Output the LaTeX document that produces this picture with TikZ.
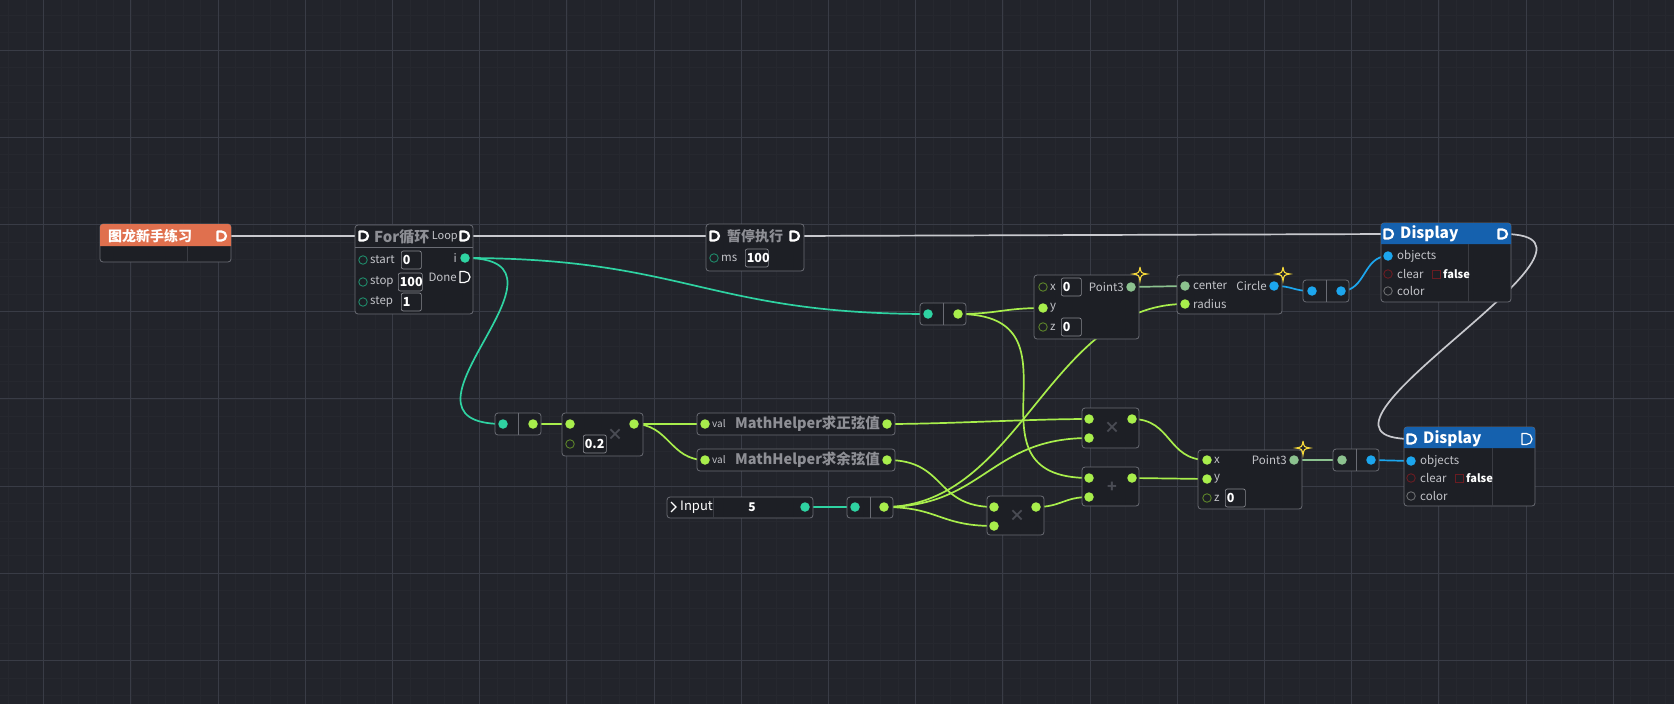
\documentclass[tikz,border=0pt]{standalone}
\usepackage{fontspec}
\setmainfont{Noto Sans CJK SC}
\usepackage{xcolor}
\usetikzlibrary{positioning}

\definecolor{canvas}{HTML}{22242B}
\definecolor{gridminor}{HTML}{26282F}
\definecolor{gridmajor}{HTML}{393C46}
\definecolor{nodefill}{HTML}{1D1F25}
\definecolor{nodeedge}{HTML}{6A6C74}
\definecolor{execwire}{HTML}{C8C9CE}
\definecolor{tealw}{HTML}{2FD3A2}
\definecolor{limew}{HTML}{A8EE4C}
\definecolor{bluew}{HTML}{1CA6EE}
\definecolor{pointw}{HTML}{8CC28F}
\definecolor{labeltxt}{HTML}{C3C4C9}
\definecolor{titletxt}{HTML}{8E8F95}
\definecolor{starthdr}{HTML}{E0704E}
\definecolor{disphdr}{HTML}{1561AE}
\definecolor{darkred}{HTML}{6A1C22}
\definecolor{opgray}{HTML}{4A4C54}
\definecolor{sparkcol}{HTML}{F2D63A}
\definecolor{divider}{HTML}{3A3C43}

\pgfdeclarelayer{grid}
\pgfdeclarelayer{wires}
\pgfsetlayers{grid,wires,main}

\begin{document}
\begin{tikzpicture}[x=1pt, y=-1pt,
    box/.style={draw=nodeedge, fill=nodefill, rounded corners=3pt, line width=0.8pt, inner sep=0pt},
    relay/.style={box, minimum width=46pt, minimum height=22pt},
    port/.style={circle, inner sep=0pt, minimum size=9.5pt},
    tport/.style={port, fill=tealw},
    lport/.style={port, fill=limew},
    bport/.style={port, fill=bluew},
    gport/.style={port, fill=pointw},
    hole/.style={circle, draw, line width=0.9pt, inner sep=0pt, minimum size=8.5pt},
    lbl/.style={font=\fontsize{11.5}{13}\selectfont, text=labeltxt, inner sep=0pt},
    ttl/.style={font=\fontsize{14.5}{16}\selectfont\bfseries, text=titletxt, inner sep=0pt},
    hdrtxt/.style={font=\fontsize{15.5}{17}\selectfont\bfseries, text=white, inner sep=0pt},
    valbox/.style={draw=nodeedge!80, fill=nodefill, rounded corners=2pt, line width=0.7pt,
                   minimum height=18pt, inner sep=1.5pt, text width=17pt, align=left,
                   font=\fontsize{12.5}{14}\selectfont\bfseries, text=white},
    opsign/.style={font=\fontsize{16}{16}\selectfont\bfseries, text=opgray, inner sep=0pt},
    wire/.style={line width=1.7pt},
    execD/.style={draw=white, line width=2.2pt, line join=round},
    execO/.style={draw=white, line width=1.2pt, line join=round},
    spark/.style={draw=sparkcol, line width=1.1pt}
  ]
  \useasboundingbox (0,0) rectangle (1674,704);

  % ---------------- canvas ----------------
  \begin{pgfonlayer}{grid}
    \fill[canvas] (0,0) rectangle (1674,704);
    \foreach \k in {0,...,95}
      \draw[gridminor, line width=0.6pt] ({8.72+17.44*\k},0) -- ++(0,704);
    \foreach \k in {0,...,39}
      \draw[gridminor, line width=0.6pt] (0,{15.12+17.44*\k}) -- ++(1674,0);
    \foreach \k in {0,...,18}
      \draw[gridmajor, line width=1pt] ({43.6+87.2*\k},0) -- ++(0,704);
    \foreach \k in {0,...,7}
      \draw[gridmajor, line width=1pt] (0,{50+87.2*\k}) -- ++(1674,0);
  \end{pgfonlayer}

  % ---------------- start ----------------
  \node[box, minimum width=131pt, minimum height=38pt] (start) at (165.5,243) {};
  \fill[starthdr] (100,246) [rounded corners=3pt] -- (100,224) -- (231,224) [sharp corners] -- (231,246) -- cycle;
  \draw[divider, line width=0.6pt] (187,246) -- (187,262);
  \node[font=\fontsize{14}{16}\selectfont\bfseries, text=white, anchor=west, inner sep=0pt] (starttxt) at (108,236) {图龙新手练习};

  % ---------------- for loop ----------------
  \node[box, minimum width=118pt, minimum height=89pt] (forloop) at (414,269.5) {};
  \draw[nodeedge, line width=0.6pt] (355,247) -- (473,247);
  \node[ttl, font=\fontsize{15}{17}\selectfont\bfseries, anchor=west] (fortitle) at (374,237) {For循环};
  \node[lbl, font=\fontsize{11}{12}\selectfont, anchor=east] (looplbl) at (458,237) {Loop};
  \node[hole, draw=tealw!65!black] (forstarth) at (363,260) {};
  \node[hole, draw=tealw!65!black] (forstoph) at (363,282) {};
  \node[hole, draw=tealw!65!black] (forsteph) at (363,302) {};
  \node[lbl, anchor=west] (forstartl) at (370,260) {start};
  \node[lbl, anchor=west] (forstopl) at (370,282) {stop};
  \node[lbl, anchor=west] (forstepl) at (370,302) {step};
  \node[valbox, anchor=west] (forstartv) at (401,260) {0};
  \node[valbox, anchor=west, text width=21pt] (forstopv) at (398,282) {100};
  \node[valbox, anchor=west] (forstepv) at (401,302) {1};
  \node[lbl, anchor=east] (foril) at (457,258) {i};
  \node[tport] (fori) at (465,258) {};
  \node[lbl, anchor=east] (fordonel) at (457,277) {Done};

  % ---------------- pause ----------------
  \node[box, minimum width=98pt, minimum height=47pt] (pause) at (755,247.5) {};
  \node[ttl, font=\fontsize{14}{16}\selectfont\bfseries] (pausetitle) at (755,236) {暂停执行};
  \node[hole, draw=tealw!65!black] (pausemsh) at (714,258) {};
  \node[lbl, anchor=west] (pausemsl) at (721,258) {ms};
  \node[valbox, anchor=west, text width=20pt] (pausemsv) at (745,258) {100};

  % ---------------- display 1 ----------------
  \node[box, minimum width=130pt, minimum height=79pt] (disp1) at (1446,262.5) {};
  \fill[disphdr] (1381,244) [rounded corners=3pt] -- (1381,223) -- (1511,223) [sharp corners] -- (1511,244) -- cycle;
  \draw[divider, line width=0.6pt] (1468,244) -- (1468,302);
  \node[hdrtxt, anchor=west] (d1title) at (1400,234) {Display};
  \node[bport] (d1obj) at (1388,256) {};
  \node[lbl, anchor=west] (d1objl) at (1397,256) {objects};
  \node[hole, draw=darkred] (d1clrh) at (1388,274) {};
  \node[lbl, anchor=west] (d1clrl) at (1397,274) {clear};
  \draw[darkred, line width=0.9pt] (1432,270) rectangle (1440,278);
  \node[lbl, font=\fontsize{11}{12}\selectfont\bfseries, text=white, anchor=west] (d1false) at (1443,274) {false};
  \node[hole, draw=labeltxt!55!black] (d1colh) at (1388,291) {};
  \node[lbl, anchor=west] (d1coll) at (1397,291) {color};

  % ---------------- point3 / circle ----------------
  \node[relay] (relayA) at (943,314) {};
  \draw[nodeedge, line width=0.6pt] (relayA.north) -- (relayA.south);
  \node[tport] (rA1) at (928,314) {};
  \node[lport] (rA2) at (958,314) {};

  \node[box, minimum width=105pt, minimum height=64pt] (pointA) at (1086.5,307) {};
  \node[hole, draw=limew!55!black] (pAxh) at (1043,287) {};
  \node[lbl, anchor=west] (pAxl) at (1050,287) {x};
  \node[valbox, anchor=west] (pAxv) at (1061,287) {0};
  \node[lport] (pAy) at (1043,308) {};
  \node[lbl, anchor=west] (pAyl) at (1050,308) {y};
  \node[hole, draw=limew!55!black] (pAzh) at (1043,327) {};
  \node[lbl, anchor=west] (pAzl) at (1050,327) {z};
  \node[valbox, anchor=west] (pAzv) at (1061,327) {0};
  \node[lbl, anchor=east] (pAoutl) at (1124,287) {Point3};
  \node[gport] (pAout) at (1131,287) {};

  \node[box, minimum width=105pt, minimum height=39pt] (circ) at (1229.5,294.5) {};
  \node[gport] (ccen) at (1185,286) {};
  \node[lbl, anchor=west] (ccenl) at (1193,286) {center};
  \node[lport] (crad) at (1185,304) {};
  \node[lbl, anchor=west] (cradl) at (1193,304) {radius};
  \node[lbl, anchor=east] (coutl) at (1267,286) {Circle};
  \node[bport] (cout) at (1274,286) {};

  \node[relay] (relayB) at (1326,291) {};
  \draw[nodeedge, line width=0.6pt] (relayB.north) -- (relayB.south);
  \node[bport] (rB1) at (1312,291) {};
  \node[bport] (rB2) at (1341,291) {};

  % ---------------- math row ----------------
  \node[relay] (relayC) at (518,424) {};
  \draw[nodeedge, line width=0.6pt] (relayC.north) -- (relayC.south);
  \node[tport] (rC1) at (503,424) {};
  \node[lport] (rC2) at (533,424) {};

  \node[box, minimum width=81pt, minimum height=43pt] (mulA) at (602.5,434.5) {};
  \node[lport] (mAin) at (570,424) {};
  \node[hole, draw=limew!55!black] (mAh) at (570,444) {};
  \node[valbox, anchor=west, text width=20pt] (mAv) at (583,444) {0.2};
  \node[opsign] (mAop) at (615,435) {×};
  \node[lport] (mAout) at (634,424) {};

  \node[box, minimum width=198pt, minimum height=22pt] (sinn) at (796,424) {};
  \node[lport] (sinin) at (705,424) {};
  \node[lbl, font=\fontsize{10}{11}\selectfont, anchor=west] (sinl) at (712,424) {val};
  \node[ttl, anchor=west] (sint) at (735,424) {MathHelper求正弦值};
  \node[lport] (sinout) at (887,424) {};

  \node[box, minimum width=198pt, minimum height=22pt] (cosn) at (796,460) {};
  \node[lport] (cosin) at (705,460) {};
  \node[lbl, font=\fontsize{10}{11}\selectfont, anchor=west] (cosl) at (712,460) {val};
  \node[ttl, anchor=west] (cost) at (735,460) {MathHelper求余弦值};
  \node[lport] (cosout) at (887,460) {};

  \node[box, minimum width=146pt, minimum height=21pt] (input) at (740,507.5) {};
  \draw[white, line width=1.1pt] (671,502) -- (676,507) -- (671,512);
  \node[font=\fontsize{13}{15}\selectfont, text=white, anchor=west, inner sep=0pt] (inputl) at (680,507) {Input};
  \draw[divider, line width=0.6pt] (713,497) -- (713,518);
  \node[font=\fontsize{12}{13}\selectfont\bfseries, text=white, inner sep=0pt] (inputv) at (752,507) {5};
  \node[tport] (inout) at (805,507) {};

  \node[relay, minimum height=21pt] (relayD) at (870,507.5) {};
  \draw[nodeedge, line width=0.6pt] (relayD.north) -- (relayD.south);
  \node[tport] (rD1) at (855,507) {};
  \node[lport] (rD2) at (884,507) {};

  \node[box, minimum width=57pt, minimum height=40pt] (mulB) at (1110.5,428) {};
  \node[lport] (mBin1) at (1089,419) {};
  \node[lport] (mBin2) at (1089,438) {};
  \node[opsign] (mBop) at (1112,428) {×};
  \node[lport] (mBout) at (1132,419) {};

  \node[box, minimum width=57pt, minimum height=39pt] (addC) at (1110.5,486.5) {};
  \node[lport] (aCin1) at (1089,478) {};
  \node[lport] (aCin2) at (1089,497) {};
  \node[opsign] (aCop) at (1112,487) {+};
  \node[lport] (aCout) at (1132,478) {};

  \node[box, minimum width=57pt, minimum height=39pt] (mulC) at (1015.5,515.5) {};
  \node[lport] (mCin1) at (994,507) {};
  \node[lport] (mCin2) at (994,526) {};
  \node[opsign] (mCop) at (1017,516) {×};
  \node[lport] (mCout) at (1036,507) {};

  \node[box, minimum width=104pt, minimum height=59pt] (pointB) at (1250,479.5) {};
  \node[lport] (pBx) at (1207,460) {};
  \node[lbl, anchor=west] (pBxl) at (1214,460) {x};
  \node[lport] (pBy) at (1207,479) {};
  \node[lbl, anchor=west] (pByl) at (1214,479) {y};
  \node[hole, draw=limew!55!black] (pBzh) at (1207,498) {};
  \node[lbl, anchor=west] (pBzl) at (1214,498) {z};
  \node[valbox, anchor=west] (pBzv) at (1225,498) {0};
  \node[lbl, anchor=east] (pBoutl) at (1287,460) {Point3};
  \node[gport] (pBout) at (1294,460) {};

  \node[relay] (relayE) at (1356,460) {};
  \draw[nodeedge, line width=0.6pt] (relayE.north) -- (relayE.south);
  \node[gport] (rE1) at (1342,460) {};
  \node[bport] (rE2) at (1371,460) {};

  % ---------------- display 2 ----------------
  \node[box, minimum width=131pt, minimum height=79pt] (disp2) at (1469.5,466.5) {};
  \fill[disphdr] (1404,448) [rounded corners=3pt] -- (1404,427) -- (1535,427) [sharp corners] -- (1535,448) -- cycle;
  \draw[divider, line width=0.6pt] (1492,448) -- (1492,506);
  \node[hdrtxt, anchor=west] (d2title) at (1423,439) {Display};
  \node[bport] (d2obj) at (1411,461) {};
  \node[lbl, anchor=west] (d2objl) at (1420,461) {objects};
  \node[hole, draw=darkred] (d2clrh) at (1411,478) {};
  \node[lbl, anchor=west] (d2clrl) at (1420,478) {clear};
  \draw[darkred, line width=0.9pt] (1455,474) rectangle (1463,482);
  \node[lbl, font=\fontsize{11}{12}\selectfont\bfseries, text=white, anchor=west] (d2false) at (1466,478) {false};
  \node[hole, draw=labeltxt!55!black] (d2colh) at (1411,496) {};
  \node[lbl, anchor=west] (d2coll) at (1420,496) {color};

  % ---------------- exec sockets ----------------
  \coordinate (startexec) at (222,236);
  \coordinate (forin) at (364,236);
  \coordinate (forloopx) at (465,236);
  \coordinate (fordone) at (465,277);
  \coordinate (pausein) at (715,236);
  \coordinate (pauseout) at (795,236);
  \coordinate (d1in) at (1389,234);
  \coordinate (d1out) at (1503,234);
  \coordinate (d2in) at (1412,439);
  \coordinate (d2out) at (1527,439);
  \foreach \c in {startexec,forin,forloopx,pausein,pauseout,d1in,d1out,d2in}
    \draw[execD] (\c) ++(-4.5,-4.5) -- ++(4,0) arc[start angle=-90, end angle=90, radius=4.5] -- ++(-4,0) -- cycle;
  \foreach \c in {fordone,d2out}
    \draw[execO] (\c) ++(-5,-5.5) -- ++(4.5,0) arc[start angle=-90, end angle=90, radius=5.5] -- ++(-4.5,0) -- cycle;

  % sparkles on the geometry outputs
  \foreach \s in {(1140,274),(1283,274),(1303,448)}
    \draw[spark, shift={\s}] (0,-7) .. controls (1,-1) .. (7,0) .. controls (1,1) .. (0,7)
      .. controls (-1,1) .. (-7,0) .. controls (-1,-1) .. (0,-7);

  % ---------------- wires ----------------
  \begin{pgfonlayer}{wires}
    \draw[wire, execwire] (startexec) -- (forin);
    \draw[wire, execwire] (forloopx) -- (pausein);
    \draw[wire, execwire] (pauseout) -- (d1in);
    \draw[wire, execwire] (d1out) .. controls +(145,0) and +(-145,0) .. (d2in);

    \draw[wire, tealw] (fori.center) .. controls +(220,0) and +(-220,0) .. (rA1.center);
    \draw[wire, tealw] (fori.center) .. controls +(130,0) and +(-130,0) .. (rC1.center);
    \draw[wire, tealw] (inout.center) -- (rD1.center);

    \draw[wire, limew] (rC2.center) -- (mAin.center);
    \draw[wire, limew] (mAout.center) -- (sinin.center);
    \draw[wire, limew] (mAout.center) .. controls +(35,0) and +(-35,0) .. (cosin.center);
    \draw[wire, limew] (sinout.center) .. controls +(60,0) and +(-60,0) .. (mBin1.center);
    \draw[wire, limew] (cosout.center) .. controls +(60,0) and +(-60,0) .. (mCin1.center);
    \draw[wire, limew] (rA2.center) .. controls +(40,0) and +(-40,0) .. (pAy.center);
    \draw[wire, limew] (rA2.center) .. controls +(135,0) and +(-135,0) .. (aCin1.center);
    \draw[wire, limew] (rD2.center) .. controls +(136,0) and +(-136,0) .. (crad.center);
    \draw[wire, limew] (rD2.center) .. controls +(100,0) and +(-100,0) .. (mBin2.center);
    \draw[wire, limew] (rD2.center) .. controls +(55,0) and +(-55,0) .. (mCin2.center);
    \draw[wire, limew] (mCout.center) .. controls +(25,0) and +(-25,0) .. (aCin2.center);
    \draw[wire, limew] (mBout.center) .. controls +(40,0) and +(-40,0) .. (pBx.center);
    \draw[wire, limew] (aCout.center) -- (pBy.center);

    \draw[wire, pointw] (pAout.center) -- (ccen.center);
    \draw[wire, pointw] (pBout.center) -- (rE1.center);

    \draw[wire, bluew] (cout.center) .. controls +(20,0) and +(-20,0) .. (rB1.center);
    \draw[wire, bluew] (rB2.center) .. controls +(25,0) and +(-25,0) .. (d1obj.center);
    \draw[wire, bluew] (rE2.center) -- (d2obj.center);
  \end{pgfonlayer}
\end{tikzpicture}
\end{document}
